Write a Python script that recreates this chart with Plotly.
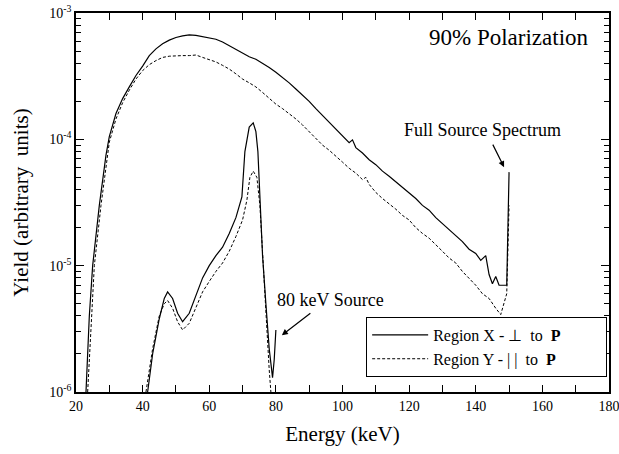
import plotly.graph_objects as go

# Full source spectrum, Region X (solid)
ex_full = [23.0, 24.0, 25.0, 27.0, 29.0, 30.0, 32.0, 34.0, 36.0, 38.0, 40.0, 42.0, 44.0, 46.0, 48.0,
           50.0, 52.0, 54.0, 56.0, 58.0, 60.0, 62.0, 64.0, 66.0, 68.0, 70.0, 72.0, 74.0, 76.0, 78.0,
           80.0, 82.0, 84.0, 86.0, 88.0, 90.0, 92.0, 94.0, 96.0, 98.0, 100.0, 102.0, 103.0, 104.0,
           106.0, 108.0, 110.0, 112.0, 114.0, 116.0, 118.0, 120.0, 122.0, 124.0, 126.0, 128.0,
           130.0, 132.0, 134.0, 136.0, 138.0, 140.0, 141.5, 143.0, 144.0, 145.0, 146.0, 147.0,
           149.3, 150.0]
yx_full = [1.0e-6, 4.0e-6, 1.0e-5, 3.0e-5, 7.5e-5, 1.05e-4, 1.6e-4, 2.1e-4, 2.6e-4, 3.2e-4, 3.8e-4,
           4.6e-4, 5.2e-4, 5.7e-4, 6.1e-4, 6.4e-4, 6.6e-4, 6.7e-4, 6.65e-4, 6.5e-4, 6.4e-4, 6.2e-4,
           5.9e-4, 5.5e-4, 5.1e-4, 4.8e-4, 4.5e-4, 4.3e-4, 4.0e-4, 3.7e-4, 3.4e-4, 3.1e-4, 2.8e-4,
           2.5e-4, 2.25e-4, 2.0e-4, 1.75e-4, 1.55e-4, 1.35e-4, 1.2e-4, 1.06e-4, 9.4e-5, 9.9e-5,
           8.6e-5, 7.8e-5, 6.9e-5, 6.3e-5, 5.6e-5, 5.1e-5, 4.6e-5, 4.2e-5, 3.8e-5, 3.4e-5, 3.0e-5,
           2.75e-5, 2.4e-5, 2.15e-5, 1.9e-5, 1.7e-5, 1.55e-5, 1.35e-5, 1.25e-5, 1.1e-5, 1.2e-5,
           8.5e-6, 7.2e-6, 8.2e-6, 7.0e-6, 7.0e-6, 5.5e-5]

# Full source spectrum, Region Y (dashed)
ey_full = [23.5, 24.5, 25.5, 27.5, 30.0, 32.0, 34.0, 36.0, 38.0, 40.0, 42.0, 44.0, 46.0, 48.0, 50.0,
           52.0, 54.0, 56.0, 58.0, 60.0, 62.0, 64.0, 66.0, 68.0, 70.0, 72.0, 74.0, 76.0, 78.0, 80.0,
           82.0, 84.0, 86.0, 88.0, 90.0, 92.0, 94.0, 96.0, 98.0, 100.0, 102.0, 104.0, 106.0, 107.0,
           108.0, 110.0, 112.0, 114.0, 116.0, 118.0, 120.0, 122.0, 124.0, 126.0, 128.0, 130.0, 132.0,
           134.0, 136.0, 138.0, 140.0, 142.0, 144.0, 146.0, 147.5, 149.3, 150.0]
yy_full = [1.0e-6, 3.5e-6, 1.0e-5, 3.0e-5, 9.5e-5, 1.45e-4, 1.95e-4, 2.45e-4, 3.0e-4, 3.5e-4, 3.9e-4,
           4.2e-4, 4.45e-4, 4.55e-4, 4.6e-4, 4.6e-4, 4.6e-4, 4.65e-4, 4.45e-4, 4.3e-4, 4.1e-4, 3.85e-4,
           3.6e-4, 3.3e-4, 3.0e-4, 2.8e-4, 2.6e-4, 2.35e-4, 2.1e-4, 1.9e-4, 1.75e-4, 1.6e-4, 1.45e-4,
           1.3e-4, 1.15e-4, 1.0e-4, 9.0e-5, 8.2e-5, 7.3e-5, 6.6e-5, 5.9e-5, 5.4e-5, 4.8e-5, 5.0e-5,
           4.4e-5, 3.8e-5, 3.4e-5, 3.1e-5, 2.8e-5, 2.5e-5, 2.3e-5, 2.0e-5, 1.8e-5, 1.65e-5, 1.45e-5,
           1.3e-5, 1.15e-5, 1.05e-5, 9.0e-6, 8.0e-6, 7.0e-6, 6.0e-6, 5.5e-6, 4.6e-6, 4.1e-6, 6.0e-6,
           3.0e-5]

# 80 keV source, Region X (solid)
ex_80 = [41.5, 43.0, 45.0, 46.5, 47.5, 49.0, 50.5, 52.0, 54.0, 56.0, 58.0, 60.0, 62.0, 64.0, 66.0,
         68.0, 69.8, 70.7, 72.0, 73.2, 74.0, 74.6, 75.2, 76.0, 77.0, 78.0, 79.0, 79.5, 80.0]
yx_80 = [1.0e-6, 2.0e-6, 3.8e-6, 5.5e-6, 6.2e-6, 5.5e-6, 4.2e-6, 3.6e-6, 4.2e-6, 5.8e-6, 8.0e-6,
         1.0e-5, 1.2e-5, 1.4e-5, 1.8e-5, 2.4e-5, 3.5e-5, 8.0e-5, 1.25e-4, 1.35e-4, 1.15e-4, 8.0e-5,
         3.3e-5, 1.2e-5, 5.0e-6, 2.2e-6, 1.3e-6, 1.8e-6, 3.1e-6]

# 80 keV source, Region Y (dashed)
ey_80 = [41.0, 43.0, 45.0, 46.5, 47.5, 49.0, 50.5, 52.0, 54.0, 56.0, 58.0, 60.0, 62.0, 64.0, 66.0,
         68.0, 70.0, 71.3, 72.2, 73.2, 74.3, 75.2, 76.0, 77.0, 78.0, 78.5]
yy_80 = [1.0e-6, 2.2e-6, 4.0e-6, 5.0e-6, 5.3e-6, 4.6e-6, 3.6e-6, 3.1e-6, 3.5e-6, 4.6e-6, 6.2e-6,
         7.5e-6, 9.0e-6, 1.05e-5, 1.3e-5, 1.7e-5, 2.3e-5, 3.3e-5, 5.0e-5, 5.6e-5, 5.0e-5, 3.0e-5,
         1.2e-5, 4.0e-6, 1.5e-6, 1.0e-6]

x_ticks = [20, 40, 60, 80, 100, 120, 140, 160, 180]
x_minor = list(range(30, 180, 20))
y_ticks = [1e-6, 1e-5, 1e-4, 1e-3]
y_tick_text = ["10<sup>-6</sup>", "10<sup>-5</sup>", "10<sup>-4</sup>", "10<sup>-3</sup>"]
y_minor = [m * 10.0 ** p for p in (-6, -5, -4) for m in range(2, 10)]

FONT = "'Liberation Serif', 'Times New Roman', Times, serif"
solid = dict(color="black", width=1.2)
dashed = dict(color="black", width=1, dash="3px,2px")
PAD = "\u00a0" * 10

fig = go.Figure()
fig.add_trace(go.Scatter(x=ex_full, y=yx_full, mode="lines", line=solid,
                         name="Region X - \u22a5  to  <b>P</b>" + PAD, legendgroup="x"))
fig.add_trace(go.Scatter(x=ey_full, y=yy_full, mode="lines", line=dashed,
                         name="Region Y - | |  to  <b>P</b>" + PAD, legendgroup="y"))
fig.add_trace(go.Scatter(x=ex_80, y=yx_80, mode="lines", line=solid,
                         showlegend=False, legendgroup="x"))
fig.add_trace(go.Scatter(x=ey_80, y=yy_80, mode="lines", line=dashed,
                         showlegend=False, legendgroup="y"))

tick_common = dict(ticks="inside", tickcolor="black", tickwidth=1.2, showgrid=False,
                   zeroline=False, automargin=False, ticklabeloverflow="allow",
                   tickfont=dict(family=FONT, size=14, color="black"))

fig.update_layout(
    xaxis=dict(range=[20, 180], tickvals=x_ticks, ticklen=7, showline=True, linecolor="black",
               linewidth=1.5, mirror=True,
               minor=dict(tickvals=x_minor, ticklen=7, ticks="inside", tickcolor="black",
                          tickwidth=1.2),
               title=dict(text="Energy (keV)", font=dict(family=FONT, size=21, color="black"),
                          standoff=14),
               **tick_common),
    yaxis=dict(type="log", range=[-6, -3], tickvals=y_ticks, ticktext=y_tick_text, ticklen=8,
               showline=True, linecolor="black", linewidth=1.5, mirror=True,
               minor=dict(tickvals=y_minor, ticklen=5, ticks="inside", tickcolor="black",
                          tickwidth=1.2),
               title=dict(text="Yield (arbitrary  units)",
                          font=dict(family=FONT, size=21, color="black"), standoff=15),
               **tick_common),
    xaxis2=dict(range=[20, 180], overlaying="x", side="top", anchor="y", tickvals=x_ticks,
                ticklen=7, showticklabels=False,
                minor=dict(tickvals=x_minor, ticklen=7, ticks="inside", tickcolor="black",
                           tickwidth=1.2),
                **tick_common),
    yaxis2=dict(type="log", range=[-6, -3], overlaying="y", side="right", anchor="x",
                tickvals=y_ticks, ticklen=8, showticklabels=False,
                minor=dict(tickvals=y_minor, ticklen=5, ticks="inside", tickcolor="black",
                           tickwidth=1.2),
                **tick_common),
)
# invisible helper trace so the mirrored tick axes are drawn
fig.add_trace(go.Scatter(x=[None], y=[None], xaxis="x2", yaxis="y2", showlegend=False,
                         hoverinfo="skip"))

fig.add_annotation(x=150, y=-3.19, text="90% Polarization", showarrow=False,
                   font=dict(family=FONT, size=23, color="black"))
fig.add_annotation(x=142.0, y=-3.93, text="Full Source Spectrum", showarrow=False,
                   font=dict(family=FONT, size=18, color="black"))
fig.add_annotation(x=96.3, y=-5.27, text="80 keV Source", showarrow=False,
                   font=dict(family=FONT, size=18, color="black"))
fig.add_annotation(x=148.5, y=-4.22, text="", showarrow=True, ax=-12, ay=-24,
                   arrowhead=2, arrowsize=1, arrowwidth=1.2, arrowcolor="black")
fig.add_annotation(x=81.8, y=-5.55, text="", showarrow=True, ax=30, ay=-23,
                   arrowhead=2, arrowsize=1, arrowwidth=1.2, arrowcolor="black")

fig.update_layout(
    width=619, height=454,
    margin=dict(l=76, r=10, t=13, b=62),
    paper_bgcolor="white", plot_bgcolor="white",
    font=dict(family=FONT, color="black"),
    legend=dict(x=0.544, y=0.04, xanchor="left", yanchor="bottom",
                bordercolor="black", borderwidth=1.2, bgcolor="white",
                font=dict(family=FONT, size=16, color="black"),
                tracegroupgap=0, itemwidth=56),
)

fig.write_html("out.html")
